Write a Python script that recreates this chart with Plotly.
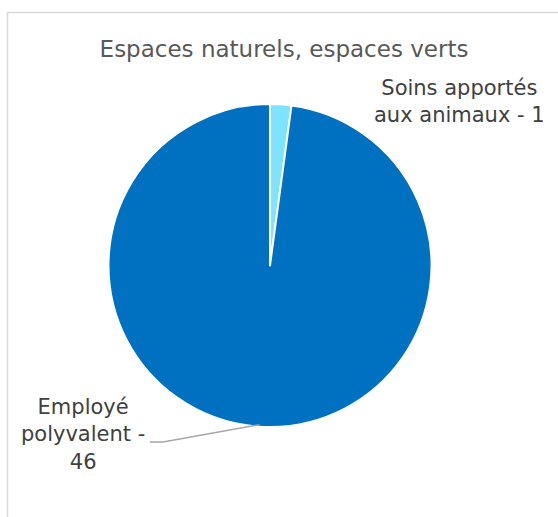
import math
import plotly.graph_objects as go

title = "Espaces naturels, espaces verts"
categories = ["Soins apportés aux animaux", "Employé polyvalent"]
values = [1, 46]
label_texts = ["Soins apportés<br>aux animaux - 1", "Employé<br>polyvalent -<br>46"]
colors = ["#7DE3FF", "#0070C0"]

W, H = 558, 517
cx, cy, r = 270, 265.5, 161.5

fig = go.Figure(go.Pie(
    labels=categories, values=values, sort=False, direction="clockwise", rotation=0,
    marker=dict(colors=colors, line=dict(color="white", width=2)),
    textinfo="none", hoverinfo="label+value", showlegend=False,
    domain=dict(x=[(cx - r) / W, (cx + r) / W], y=[1 - (cy + r) / H, 1 - (cy - r) / H]),
))

font = "DejaVu Sans"
fig.add_annotation(x=459 / W, y=1 - 102 / H, xref="paper", yref="paper", text=label_texts[0],
                   xanchor="center", yanchor="middle",
                   showarrow=False, font=dict(family=font, size=21, color="#404040"), align="center")
fig.add_annotation(x=83 / W, y=1 - 434 / H, xref="paper", yref="paper", text=label_texts[1],
                   xanchor="center", yanchor="middle",
                   showarrow=False, font=dict(family=font, size=21, color="#404040"), align="center")

# leader line from the mid-angle of the big slice
total = sum(values)
mid = (values[0] + values[1] / 2) / total * 2 * math.pi
sx = cx + (r - 4) * math.sin(mid)
sy = cy - (r - 4) * math.cos(mid) + 2
fig.add_shape(type="path", xref="paper", yref="paper",
              path=f"M {150/W},{1-442/H} L {163/W},{1-442/H} L {sx/W},{1-sy/H}",
              line=dict(color="#A6A6A6", width=1.3))

# chart border
fig.add_shape(type="rect", xref="paper", yref="paper", x0=7.5 / W, y0=-0.05, x1=1.05, y1=1 - 12.5 / H,
              line=dict(color="#D9D9D9", width=1.5))

fig.update_layout(
    width=W, height=H, margin=dict(l=0, r=0, t=0, b=0),
    paper_bgcolor="white", plot_bgcolor="white",
    title=dict(text=title, x=284 / W, xanchor="center", y=1 - 49 / H, yanchor="middle",
               font=dict(family=font, size=23, color="#595959")),
)
fig.write_html("out.html", config={"displayModeBar": False},
               post_script="document.body.style.margin='0';")
